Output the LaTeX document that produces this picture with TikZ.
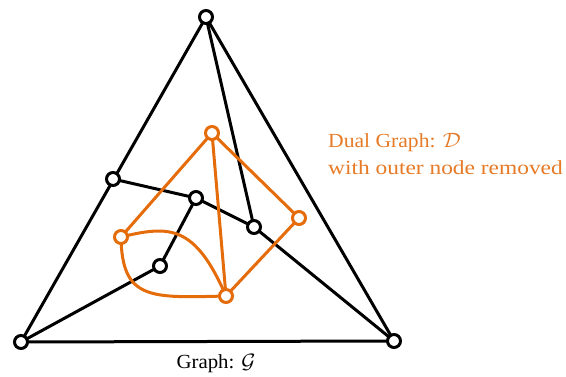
\documentclass[tikz,border=0pt]{standalone}
\usepackage{fontspec}
\setmainfont{Liberation Serif}
\begin{document}
\begin{tikzpicture}[x=1pt,y=-1pt,
  vb/.style={circle,draw=black,fill=white,line width=3pt,minimum size=13pt,inner sep=0pt},
  vo/.style={circle,draw=dorange,fill=white,line width=3pt,minimum size=13pt,inner sep=0pt},
  eb/.style={draw=black,line width=3pt},
  eo/.style={draw=dorange,line width=3pt}]
\definecolor{dorange}{RGB}{228,108,10}
\definecolor{torange}{RGB}{230,122,38}
\useasboundingbox (0,0) rectangle (566,377);
% black graph
\coordinate (T) at (206,17);
\coordinate (L) at (21,342);
\coordinate (R) at (394,341);
\coordinate (A) at (113,179);
\coordinate (B) at (196,198);
\coordinate (C) at (254,227);
\coordinate (D) at (160,266);
\draw[eb] (T) -- (L) -- (R) -- cycle;
\draw[eb] (T) -- (C);
\draw[eb] (A) -- (B) -- (C) -- (R);
\draw[eb] (B) -- (D) -- (L);
% orange graph
\coordinate (O1) at (212,133);
\coordinate (O2) at (299,218);
\coordinate (O3) at (121,237);
\coordinate (O4) at (226,296);
\draw[eo] (O3) -- (O1) -- (O2) -- (O4) -- (O1);
\draw[eo] (O3) .. controls (170,225) and (195,225) .. (O4);
\draw[eo] (O3) .. controls (122,300) and (150,298) .. (O4);
% nodes
\foreach \n in {T,L,R,A,B,C,D} \node[vb] (n\n) at (\n) {};
\foreach \n in {O1,O2,O3,O4} \node[vo] (n\n) at (\n) {};
\node[anchor=base west,text=torange,font=\fontsize{20}{20}\selectfont,inner sep=0pt] (dt1) at (328,148) {\scalebox{1.08}[1]{Dual Graph: $\mathcal{D}$}};
\node[anchor=base west,text=torange,font=\fontsize{20}{20}\selectfont,inner sep=0pt] (dt2) at (328,175) {\scalebox{1.17}[1]{with outer node removed}};
\node[anchor=base,font=\fontsize{20}{20}\selectfont,inner sep=0pt] (gt) at (216,369) {\scalebox{1.04}[1]{Graph: $\mathcal{G}$}};
\end{tikzpicture}
\end{document}
